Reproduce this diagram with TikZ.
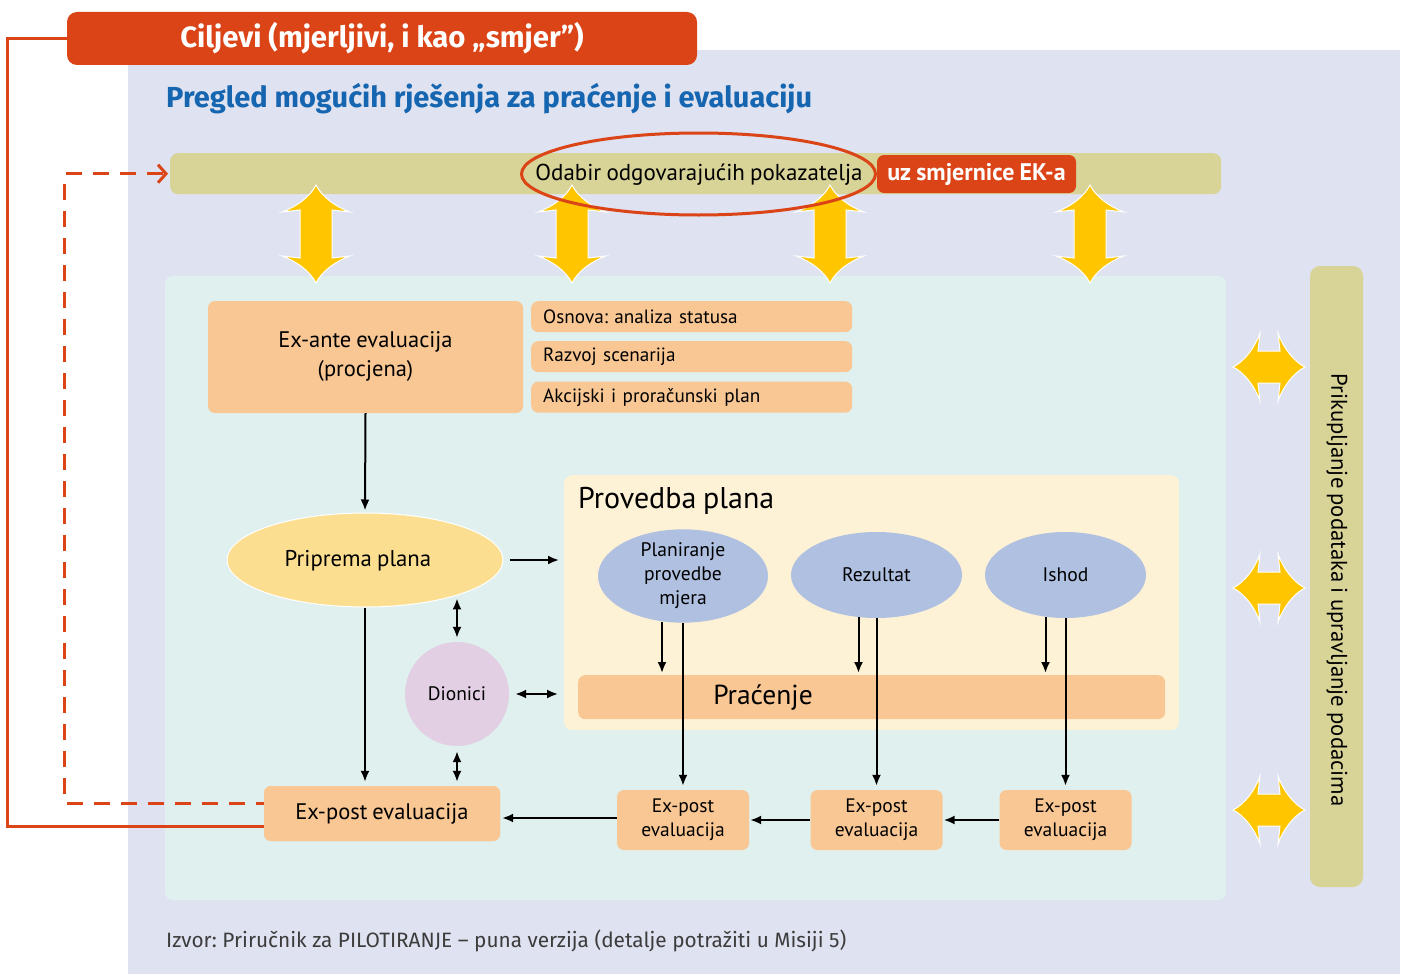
\documentclass[tikz,border=0pt]{standalone}
\usepackage{fontspec}
\setmainfont[WordSpace=0.85]{PT Sans}
\newfontfamily\dinfont{Fira Sans}
\usetikzlibrary{shapes.geometric,arrows.meta}
\frenchspacing

\definecolor{lav}{HTML}{DFE2F0}
\definecolor{orangeR}{HTML}{DB4416}
\definecolor{olive}{HTML}{D8D396}
\definecolor{tealbg}{HTML}{DFF0EE}
\definecolor{peach}{HTML}{F9C794}
\definecolor{cream}{HTML}{FEF2D6}
\definecolor{yellowE}{HTML}{FBDE8F}
\definecolor{blueE}{HTML}{AFC0E0}
\definecolor{lilac}{HTML}{E2CFE3}
\definecolor{arrowY}{HTML}{FFC600}
\definecolor{titleblue}{HTML}{1565B0}
\definecolor{srcgray}{HTML}{3C3C3C}

% vertical yellow double arrow: centre x, top tip y, bottom tip y
\newcommand\YVert[3]{%
  \filldraw[yarr] (#1,#2) .. controls (#1-6,#2+12) and (#1-20,#2+22) .. (#1-34,#2+27)
    -- (#1-16,#2+25) -- (#1-16,#3-25) -- (#1-34,#3-27)
    .. controls (#1-20,#3-22) and (#1-6,#3-12) .. (#1,#3)
    .. controls (#1+6,#3-12) and (#1+20,#3-22) .. (#1+34,#3-27)
    -- (#1+16,#3-25) -- (#1+16,#2+25) -- (#1+34,#2+27)
    .. controls (#1+20,#2+22) and (#1+6,#2+12) .. (#1,#2) -- cycle;}
% horizontal yellow double arrow: centre y, left tip x, right tip x
\newcommand\YHorz[3]{%
  \filldraw[yarr] (#2,#1) .. controls (#2+12,#1-6) and (#2+22,#1-20) .. (#2+27,#1-34)
    -- (#2+25,#1-16) -- (#3-25,#1-16) -- (#3-27,#1-34)
    .. controls (#3-22,#1-20) and (#3-12,#1-6) .. (#3,#1)
    .. controls (#3-12,#1+6) and (#3-22,#1+20) .. (#3-27,#1+34)
    -- (#3-25,#1+16) -- (#2+25,#1+16) -- (#2+27,#1+34)
    .. controls (#2+22,#1+20) and (#2+12,#1+6) .. (#2,#1) -- cycle;}

\begin{document}
\begin{tikzpicture}[x=1pt,y=-1pt,
  box/.style={fill=peach, rounded corners=7, inner sep=0, align=center},
  subbox/.style={fill=peach, rounded corners=7, minimum width=321, minimum height=31,
                 text width=297, inner xsep=12, inner ysep=0, align=left, anchor=north west,
                 font=\fontsize{19.2}{22}\selectfont},
  blueell/.style={ellipse, fill=blueE, inner sep=0, minimum height=86, align=center,
                  font=\fontsize{19.6}{24}\selectfont},
  smallep/.style={box, minimum width=132, minimum height=60, font=\fontsize{19.5}{24}\selectfont},
  arr/.style={line width=2, -{Latex[length=11,width=9]}},
  darr/.style={line width=2, {Latex[length=11,width=9]}-{Latex[length=11,width=9]}},
  yarr/.style={fill=arrowY, draw=white, line width=1},
  redline/.style={draw=orangeR, line width=3},
  reddash/.style={draw=orangeR, line width=3, dash pattern=on 16pt off 11pt,
                  -{Straight Barb[length=8,width=18,line width=3]}}]

\useasboundingbox (0,0) rectangle (1403,974);
\fill[white] (0,0) rectangle (1403,974);

% backgrounds
\fill[lav] (128,50) rectangle (1400,974);
\fill[tealbg, rounded corners=8] (165,276) rectangle (1226,900);

% headings
\node[fill=orangeR, rounded corners=10, minimum width=630, minimum height=53, inner sep=0,
      text=white, font=\dinfont\bfseries\fontsize{29.3}{34}\selectfont] (cilj) at (382,38.5)
      {Ciljevi (mjerljivi, i kao „smjer”)};
\node[anchor=base west, inner sep=0, text=titleblue, font=\dinfont\bfseries\fontsize{29}{34}\selectfont]
      (title) at (166,107) {Pregled mogućih rješenja za praćenje i evaluaciju};

% indicator band
\node[fill=olive, rounded corners=8, minimum width=1051, minimum height=41, inner sep=0,
      anchor=north west] (band) at (170,153) {};
\node[inner sep=0, font=\fontsize{23}{27}\selectfont] (odabir) at (699,175) {Odabir odgovarajućih pokazatelja};
\node[fill=orangeR, rounded corners=7, minimum width=199, minimum height=38, inner sep=0,
      text=white, font=\bfseries\fontsize{24}{28}\selectfont] (ek) at (976.5,174) {uz smjernice EK-a};

% data management band
\node[fill=olive, rounded corners=10, minimum width=53, minimum height=621, inner sep=0] (side) at (1336.5,576.5) {};
\node[rotate=-90, inner sep=0, font=\fontsize{22.7}{26}\selectfont] (sidetxt) at (1337,590)
      {Prikupljanje podataka i upravljanje podacima};

% yellow exchange arrows
\YVert{316}{185}{283}
\YVert{572}{185}{283}
\YVert{830}{185}{283}
\YVert{1090}{185}{283}
\YHorz{367}{1233}{1305}
\YHorz{588}{1233}{1305}
\YHorz{810}{1233}{1305}

\node[ellipse, draw=orangeR, line width=3, minimum width=354, minimum height=82, inner sep=0] (oval) at (698.5,174) {};

% implementation panel
\node[fill=cream, rounded corners=8, minimum width=615, minimum height=255, inner sep=0,
      anchor=north west] (prov) at (564,475) {};
\node[anchor=west, inner sep=0, font=\fontsize{30}{34}\selectfont] (provt) at (578,501) {Provedba plana};
\node[box, minimum width=587, minimum height=44, anchor=north west] (prac) at (578,675) {};

% feedback lines to the objectives
\node[box, minimum width=236, minimum height=55] (expost) at (382,813.5) {};
\draw[redline] (cilj.west) -- ++(-59,0) |- ([xshift=8,yshift=-12.5]expost.west);
\draw[reddash] ([xshift=8,yshift=10.5]expost.west) -- ++(-207,0) |- ([xshift=-2]band.west);

% boxes
\node[box, minimum width=236, minimum height=55, font=\fontsize{22.5}{26}\selectfont] (expostb) at (382,813.5) {Ex-post evaluacija};
\node[box, minimum width=315, minimum height=112, font=\fontsize{22.5}{29}\selectfont] (exante) at (365.5,357)
      {Ex-ante evaluacija\\(procjena)};
\node[subbox] (s1) at (531,301) {Osnova: analiza statusa};
\node[subbox] (s2) at (531,341) {Razvoj scenarija};
\node[subbox] (s3) at (531,381.5) {Akcijski i proračunski plan};

\node[ellipse, fill=yellowE, draw=white, line width=1, minimum width=276, minimum height=94,
      inner sep=0] (prip) at (365,560) {};
\node[inner sep=0, font=\fontsize{22.8}{26}\selectfont] (priptxt) at (358,561) {Priprema plana};
\node[circle, fill=lilac, minimum size=104, inner sep=0, font=\fontsize{19.5}{22}\selectfont] (dio) at (457,694) {Dionici};

\node[blueell, minimum width=170] (plan) at (683,576) {Planiranje\\provedbe\\mjera};
\node[blueell, minimum width=171] (rez) at (876.5,575) {Rezultat};
\node[blueell, minimum width=161] (ish) at (1065.5,575) {Ishod};
\node[inner sep=0, font=\fontsize{27.5}{32}\selectfont] (practxt) at (763,698) {Praćenje};

\node[smallep] (ep1) at (683,820) {Ex-post\\evaluacija};
\node[smallep] (ep2) at (876.5,820) {Ex-post\\evaluacija};
\node[smallep] (ep3) at (1065.5,820) {Ex-post\\evaluacija};

% flow connectors
\draw[arr] (exante.south) -- ([yshift=2]prip.north);
\draw[arr] ([xshift=6]prip.east) -- ([xshift=-5]prip.east -| prov.west);
\draw[arr] (prip.south) -- ([yshift=4]prip.south |- expostb.north);
\draw[darr, shorten <=3] (prip.-21 -| dio.north) -- ([yshift=4]dio.north);
\draw[darr] ([yshift=-5]dio.south) -- ([yshift=4]dio.south |- expostb.north);
\draw[darr] ([xshift=6]dio.east) -- ([xshift=-6]dio.east -| prov.west);

\draw[arr] ([xshift=-21,yshift=1]plan.south) -- ([xshift=-21,yshift=2]plan.south |- prac.north);
\draw[arr] (plan.south) -- ([yshift=4]ep1.north);
\draw[arr] ([xshift=-18,yshift=1]rez.south) -- ([xshift=-18,yshift=2]rez.south |- prac.north);
\draw[arr] (rez.south) -- ([yshift=4]ep2.north);
\draw[arr] ([xshift=-20,yshift=1]ish.south) -- ([xshift=-20,yshift=2]ish.south |- prac.north);
\draw[arr] (ish.south) -- ([yshift=4]ep3.north);

\draw[arr] (ep3.west) -- ([xshift=1]ep2.east);
\draw[arr] (ep2.west) -- ([xshift=1]ep1.east);
\draw[arr] ([yshift=2]ep1.west) -- ([xshift=2,yshift=2]ep1.west -| expostb.east);

% source line
\node[anchor=base west, inner sep=0, text=srcgray, font=\dinfont\fontsize{20.8}{24}\selectfont] (src) at (166,947)
      {Izvor: Priručnik za PILOTIRANJE – puna verzija (detalje potražiti u Misiji 5)};
\end{tikzpicture}
\end{document}
